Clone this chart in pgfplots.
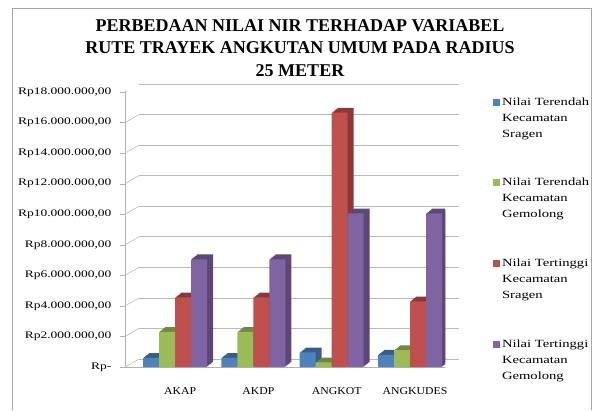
\documentclass[border=0pt]{standalone}
\usepackage{graphicx}
\usepackage{pgfplots}
\pgfplotsset{compat=1.18}
\usepackage{pgfplotstable}
\usepackage{fontspec}
\setmainfont{Liberation Serif}
\definecolor{sB}{HTML}{4F81BD}\definecolor{sBd}{HTML}{385D8A}
\definecolor{sG}{HTML}{9BBB59}\definecolor{sGd}{HTML}{71893F}
\definecolor{sR}{HTML}{C0504D}\definecolor{sRd}{HTML}{8C3836}
\definecolor{sP}{HTML}{8064A2}\definecolor{sPd}{HTML}{5C4776}
\newcommand\yl[1]{\scalebox{1.35}[1]{Rp#1}}
\newcommand\lx[1]{\scalebox{1.33}[1]{#1}}
\newcommand\cx[1]{\scalebox{1.12}[1]{#1}}
\newcommand\lent[3]{\begin{tabular}[t]{@{}l@{}}\lx{#1}\\\lx{#2}\\\lx{#3}\end{tabular}}
\pgfplotstableread{
cat blue green red purple
0 0.6 2.3 4.55 7.05
1 0.6 2.3 4.55 7.05
2 0.95 0.3 16.65 10.05
3 0.8 1.1 4.3 10.05
}\data
\begin{document}
\begin{tikzpicture}
\useasboundingbox (0,0) rectangle (594pt,410pt);
\draw[gray!70] (12pt,0) -- (12pt,402pt) -- (591pt,402pt) -- (591pt,0);
\node[anchor=north, align=center, font=\fontsize{18}{22.5}\selectfont\bfseries] at (300pt,394pt)
 {PERBEDAAN NILAI NIR TERHADAP VARIABEL\\RUTE TRAYEK ANGKUTAN UMUM PADA RADIUS\\25 METER};
\begin{axis}[
 at={(125pt,43pt)}, anchor=south west, width=320pt, height=275pt, scale only axis,
 xmin=-0.64, xmax=3.447, ymin=0, ymax=18,
 axis x line*=bottom, axis y line*=left,
 axis line style={gray!60, -},
 xtick={0,1,2,3}, xticklabels={\cx{AKAP},\cx{AKDP},\cx{ANGKOT},\cx{ANGKUDES}},
 x tick style={draw=none},
 xticklabel style={font=\fontsize{10.5}{12}\selectfont, xshift=5pt, yshift=-12pt},
 ytick={0,2,...,18},
 yticklabels={{\yl{-}\hspace{7pt}},{\yl{2.000.000,00}},{\yl{4.000.000,00}},{\yl{6.000.000,00}},{\yl{8.000.000,00}},{\yl{10.000.000,00}},{\yl{12.000.000,00}},{\yl{14.000.000,00}},{\yl{16.000.000,00}},{\yl{18.000.000,00}}},
 yticklabel style={font=\fontsize{10}{12}\selectfont, xshift=-5pt},
 y tick style={gray!60}, tick align=outside, major tick length=5pt,
 ymajorgrids, grid style={gray!55, line width=0.6pt, xshift=14pt, yshift=8pt},
 legend image code/.code={\fill[#1] (0pt,-0.5pt) rectangle (7pt,6.5pt);},
 legend style={at={(1.14,1.008)}, anchor=north west, draw=none, fill=none,
   font=\fontsize{11}{16}\selectfont, cells={anchor=base west}, row sep=64pt},
]
\pgfplotsinvokeforeach{0,...,9}{\draw[gray!55, line width=0.6pt] (rel axis cs:0,#1/9) -- ++(14pt,8pt);}
\draw[gray!60] (rel axis cs:1,0) -- ++(14pt,8pt);
\draw[gray!60] (rel axis cs:1,0) -- ++(0,-4pt);
% series 1
\pgfplotsinvokeforeach{6,5,4,3,2,1}{\addplot[ybar, bar width=16pt, bar shift=-24pt, fill=sBd, draw=none, forget plot, xshift=#1pt, yshift=#1*0.8pt] table[x=cat,y=blue]{\data};}
\addplot[ybar, bar width=16pt, bar shift=-24pt, fill=sB, draw=none] table[x=cat,y=blue]{\data};
\addlegendentry{\lent{Nilai Terendah}{Kecamatan}{Sragen}}
% series 2
\pgfplotsinvokeforeach{6,5,4,3,2,1}{\addplot[ybar, bar width=16pt, bar shift=-8pt, fill=sGd, draw=none, forget plot, xshift=#1pt, yshift=#1*0.8pt] table[x=cat,y=green]{\data};}
\addplot[ybar, bar width=16pt, bar shift=-8pt, fill=sG, draw=none] table[x=cat,y=green]{\data};
\addlegendentry{\lent{Nilai Terendah}{Kecamatan}{Gemolong}}
% series 3
\pgfplotsinvokeforeach{6,5,4,3,2,1}{\addplot[ybar, bar width=16pt, bar shift=8pt, fill=sRd, draw=none, forget plot, xshift=#1pt, yshift=#1*0.8pt] table[x=cat,y=red]{\data};}
\addplot[ybar, bar width=16pt, bar shift=8pt, fill=sR, draw=none] table[x=cat,y=red]{\data};
\addlegendentry{\lent{Nilai Tertinggi}{Kecamatan}{Sragen}}
% series 4
\pgfplotsinvokeforeach{6,5,4,3,2,1}{\addplot[ybar, bar width=16pt, bar shift=24pt, fill=sPd, draw=none, forget plot, xshift=#1pt, yshift=#1*0.8pt] table[x=cat,y=purple]{\data};}
\addplot[ybar, bar width=16pt, bar shift=24pt, fill=sP, draw=none] table[x=cat,y=purple]{\data};
\addlegendentry{\lent{Nilai Tertinggi}{Kecamatan}{Gemolong}}
\end{axis}
\end{tikzpicture}
\end{document}
